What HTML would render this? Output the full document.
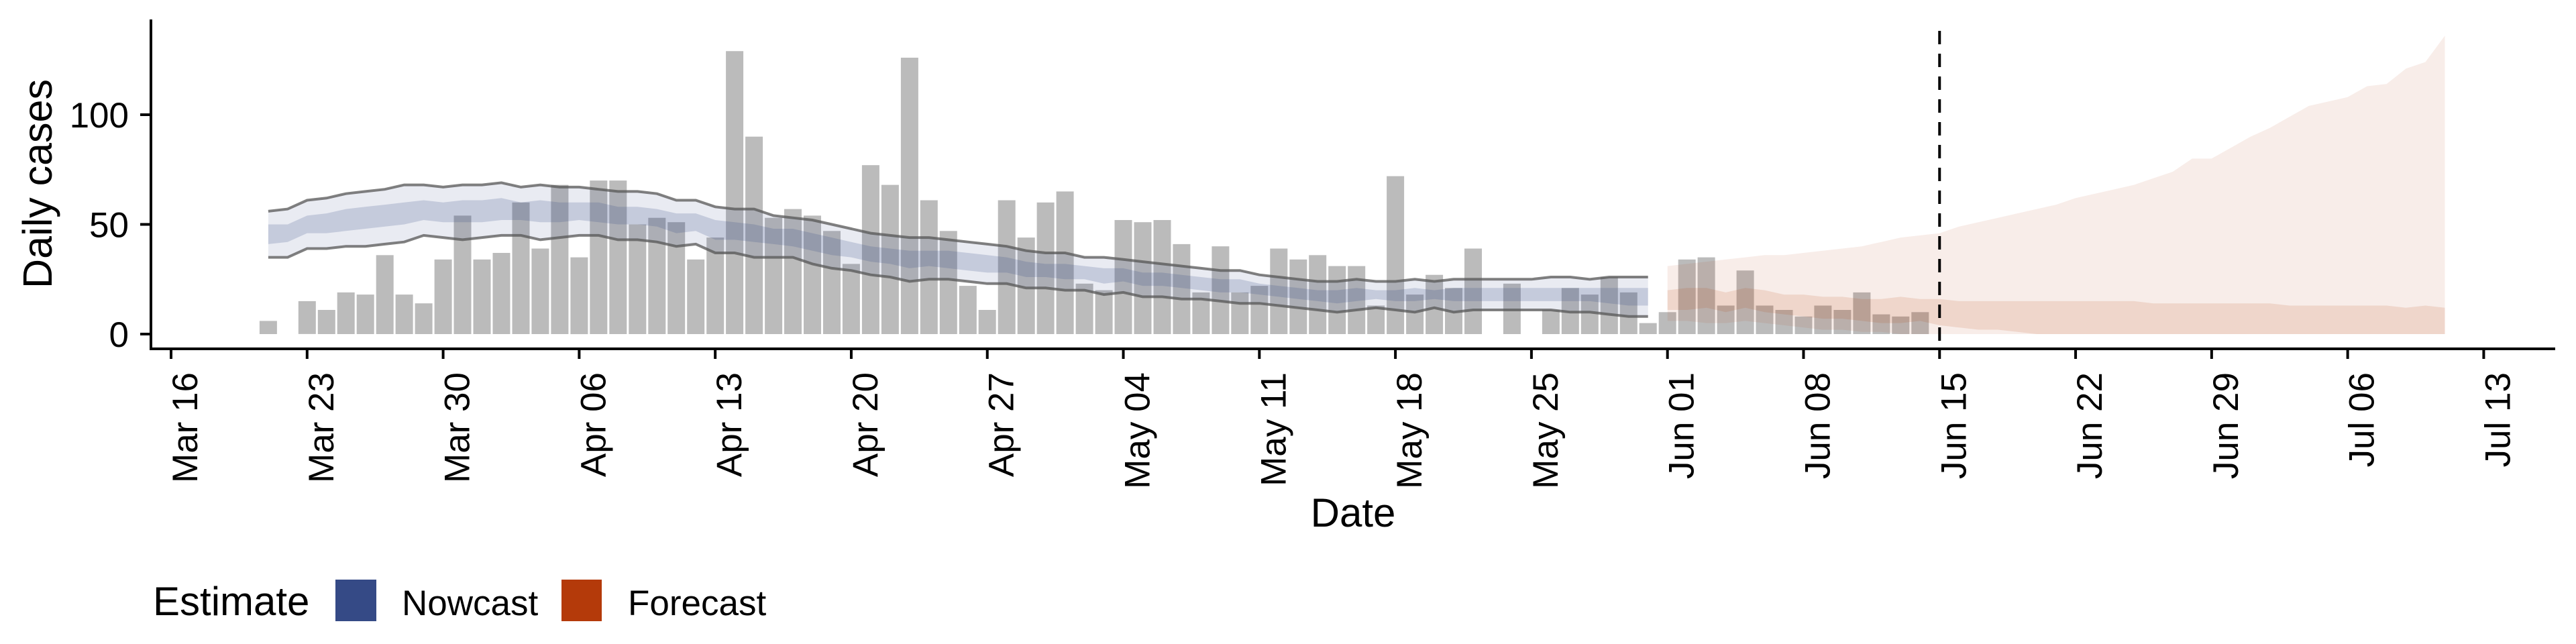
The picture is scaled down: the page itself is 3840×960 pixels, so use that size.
<!DOCTYPE html>
<html><head><meta charset="utf-8"><style>
html,body{margin:0;padding:0;background:#fff;}
svg{display:block;font-family:"Liberation Sans",Arial,sans-serif;}
</style></head><body>
<svg id="chart" width="3840" height="960" viewBox="0 0 3840 960" xmlns="http://www.w3.org/2000/svg">
<g id="bands"></g>
<g id="bars"></g>
<g id="bands2"></g>
<g id="lines"></g>
<g id="axes"></g>
<text transform="translate(77,274) rotate(-90)" text-anchor="middle" font-size="61">Daily cases</text>
<text x="2017" y="785" text-anchor="middle" font-size="60">Date</text>
<g>
<text x="228" y="917" font-size="60">Estimate</text>
<rect x="500" y="864" width="61" height="62" fill="#354a86"/>
<text x="599" y="917" font-size="53">Nowcast</text>
<rect x="837" y="864" width="60" height="62" fill="#b43a0a"/>
<text x="936" y="917" font-size="53">Forecast</text>
</g>
</svg>
<script>
// day offsets are counted from Mar 16
const barStartDay = 5;
const barValues = [6,0,15,11,19,18,36,18,14,34,54,34,37,60,39,68,35,70,70,50,53,51,34,44,129,90,53,57,54,47,32,77,68,126,61,47,22,11,61,44,60,65,23,20,52,51,52,41,19,40,19,22,39,34,36,31,31,13,72,18,27,21,39,0,23,0,11,21,18,26,19,5,10,34,35,13,29,13,11,8,13,11,19,9,8,10];
const nowStartDay = 5;
const nowUpper = [56,57,61,62,64,65,66,68,68,67,68,68,69,67,68,67,67,66,65,65,64,61,61,58,57,57,54,53,52,50,48,46,45,44,44,43,42,41,40,38,37,37,35,35,34,33,32,31,30,29,29,27,26,25,24,24,25,24,24,25,24,25,25,25,25,25,26,26,25,26,26,26];
const nowLower = [35,35,39,39,40,40,41,42,45,44,43,44,45,45,43,44,45,45,43,43,42,40,41,37,37,35,35,35,32,30,29,27,26,24,25,25,24,23,23,21,21,20,20,18,19,17,17,16,16,15,14,14,13,12,11,10,11,12,11,10,12,10,11,11,11,11,11,10,10,9,8,8];
const nowInnerUpper = [50,50,54,55,57,58,59,60,61,60,61,61,62,60,61,60,60,60,58,58,57,55,55,52,51,50,48,48,46,44,42,40,39,38,38,38,37,36,35,33,32,32,31,30,30,28,28,27,26,25,25,23,22,21,20,20,21,20,20,21,20,21,21,21,21,21,21,21,21,21,21,21];
const nowInnerLower = [41,42,46,46,47,48,49,50,52,51,51,51,52,52,51,51,52,51,50,50,49,46,47,43,43,42,41,40,38,36,35,33,32,30,31,30,29,28,28,26,26,25,25,23,24,22,22,21,20,19,19,18,17,16,15,14,15,16,15,15,16,15,15,15,15,15,15,15,15,14,13,13];
const foreStartDay = 77;
const foreUpper = [31,32,33,34,35,36,36,37,38,39,40,42,44,45,46,49,51,53,55,57,59,62,64,66,68,71,74,80,80,85,90,94,99,104,106,108,113,114,121,124,136];
const foreInnerUpper = [20,21,21,19,21,20,18,18,17,17,16,16,17,16,16,15,15,15,15,15,15,15,15,15,15,14,14,14,14,14,14,14,13,13,13,13,13,13,12,13,12];
const foreInnerLower = [11,11,12,10,12,10,9,8,7,7,6,5,5,6,4,3,2,2,1,0,0,0,0,0,0,0,0,0,0,0,0,0,0,0,0,0,0,0,0,0,0];
const foreLower = [6,6,5,5,6,5,4,3,2,2,1,1,0,0,0,0,0,0,0,0,0,0,0,0,0,0,0,0,0,0,0,0,0,0,0,0,0,0,0,0,0];
const xTickLabels = ["Mar 16","Mar 23","Mar 30","Apr 06","Apr 13","Apr 20","Apr 27","May 04","May 11","May 18","May 25","Jun 01","Jun 08","Jun 15","Jun 22","Jun 29","Jul 06","Jul 13"];
const yTicks = [0,50,100];
const forecastDateDay = 91;

const NS = "http://www.w3.org/2000/svg";
const X0 = 255, PXD = 28.97, Y0 = 498, PXU = 3.27;
function x(d){ return X0 + d*PXD; }
function y(v){ return Y0 - v*PXU; }
function mk(tag, attrs, parent){
  const e = document.createElementNS(NS, tag);
  for (const k in attrs) e.setAttribute(k, attrs[k]);
  parent.appendChild(e); return e;
}
function areaPath(start, hi, lo){
  let p = "";
  hi.forEach((v,i)=>{ p += (i?"L":"M") + x(start+i).toFixed(1) + "," + y(v).toFixed(1); });
  for (let i = lo.length-1; i >= 0; i--) p += "L" + x(start+i).toFixed(1) + "," + y(lo[i]).toFixed(1);
  return p + "Z";
}
function linePath(start, arr){
  return arr.map((v,i)=>(i?"L":"M") + x(start+i).toFixed(1) + "," + y(v).toFixed(1)).join("");
}
const bars = document.getElementById("bars");
const bands2 = document.getElementById("bands2");
const lines = document.getElementById("lines");
const axes = document.getElementById("axes");

barValues.forEach((v,i)=>{
  if (v <= 0) return;
  const d = barStartDay + i;
  const r = mk("rect", {x: (x(d)-13).toFixed(1), y: y(v).toFixed(1), width: 26, height: (v*PXU).toFixed(1), fill: "#bbbbbb"}, bars);
  
  
});

let e;
e = mk("path", {d: areaPath(nowStartDay, nowUpper, nowLower), fill: "#354a86", "fill-opacity": 0.11}, bands2);


e = mk("path", {d: areaPath(nowStartDay, nowInnerUpper, nowInnerLower), fill: "#354a86", "fill-opacity": 0.2}, bands2);


e = mk("path", {d: areaPath(foreStartDay, foreUpper, foreLower), fill: "#b43a0a", "fill-opacity": 0.09}, bands2);


e = mk("path", {d: areaPath(foreStartDay, foreInnerUpper, foreInnerLower), fill: "#b43a0a", "fill-opacity": 0.13}, bands2);



e = mk("path", {d: linePath(nowStartDay, nowUpper), fill: "none", stroke: "#555", "stroke-opacity": 0.75, "stroke-width": 4}, lines);


e = mk("path", {d: linePath(nowStartDay, nowLower), fill: "none", stroke: "#555", "stroke-opacity": 0.75, "stroke-width": 4}, lines);



e = mk("line", {x1: x(forecastDateDay), x2: x(forecastDateDay), y1: 46, y2: 520, stroke: "#000", "stroke-width": 4, "stroke-dasharray": "20 14"}, axes);



e = mk("line", {x1: 225, x2: 225, y1: 29, y2: 522, stroke: "#000", "stroke-width": 4}, axes);


e = mk("line", {x1: 223, x2: 3809, y1: 520, y2: 520, stroke: "#000", "stroke-width": 4}, axes);



yTicks.forEach(v=>{
  const t = mk("line", {x1: 209, x2: 225, y1: y(v), y2: y(v), stroke: "#000", "stroke-width": 4}, axes);
  
  
  const l = mk("text", {x: 192, y: y(v) + 19, "text-anchor": "end", "font-size": 53}, axes);
  l.textContent = v;
  
  
});
xTickLabels.forEach((lab,i)=>{
  const d = i*7;
  const t = mk("line", {x1: x(d), x2: x(d), y1: 520, y2: 535, stroke: "#000", "stroke-width": 4}, axes);
  
  
  const l = mk("text", {transform: "translate(" + (x(d)+39).toFixed(1) + ",555) rotate(-90)", "text-anchor": "end", "font-size": 53}, axes);
  l.textContent = lab;
  
  
});
</script>
</body></html>
